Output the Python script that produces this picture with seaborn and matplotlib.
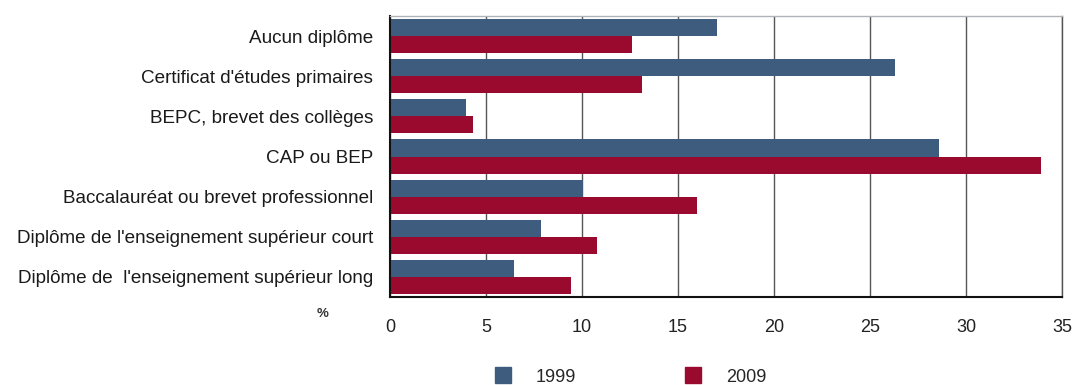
import matplotlib
matplotlib.use("Agg")
import matplotlib.pyplot as plt
from matplotlib import font_manager
from matplotlib.lines import Line2D
import pandas as pd
import seaborn as sns

categories = [
    "Aucun diplôme",
    "Certificat d'études primaires",
    "BEPC, brevet des collèges",
    "CAP ou BEP",
    "Baccalauréat ou brevet professionnel",
    "Diplôme de l'enseignement supérieur court",
    "Diplôme de  l'enseignement supérieur long",
]
years = ["1999", "2009"]
values_1999 = [17.05, 26.3, 3.95, 28.6, 10.05, 7.85, 6.45]
values_2009 = [12.6, 13.1, 4.3, 33.9, 16.0, 10.8, 9.45]
x_ticks = [0, 5, 10, 15, 20, 25, 30, 35]
colors = {"1999": "#3e5d7e", "2009": "#990a2e"}

df = pd.DataFrame({
    "diplome": categories * 2,
    "annee": [years[0]] * len(categories) + [years[1]] * len(categories),
    "pct": values_1999 + values_2009,
})

sns.set_theme(style="white")
installed = {f.name for f in font_manager.fontManager.ttflist}
base_font = "Liberation Sans" if "Liberation Sans" in installed else "DejaVu Sans"
plt.rcParams["font.family"] = [base_font, "DejaVu Sans"]

fig = plt.figure(figsize=(10.75, 3.85), dpi=100)
ax = fig.add_axes([0.3628, 0.2286, 0.6251, 0.7298])

sns.barplot(data=df, y="diplome", x="pct", hue="annee", order=categories,
            hue_order=years, palette=colors, width=0.85, saturation=1,
            orient="h", ax=ax, legend=False, linewidth=0, edgecolor="none")

ax.set_xlim(0, 35)
ax.set_ylim(len(categories) - 0.5, -0.5)
ax.set_xticks(x_ticks)
ax.set_xticklabels([str(t) for t in x_ticks], fontsize=13, color="#222222")
ax.tick_params(axis="x", length=0, pad=16)
ax.tick_params(axis="y", length=0, pad=12, labelsize=13.6, labelcolor="#1a1a1a")
ax.set_xlabel("")
ax.set_ylabel("")
ax.xaxis.grid(True, color="#555555", linewidth=1.0)
ax.set_axisbelow(True)

for side in ["left", "bottom"]:
    ax.spines[side].set_color("#111111")
    ax.spines[side].set_linewidth(1.5)
ax.spines["top"].set_color("#b0b4b8")
ax.spines["top"].set_linewidth(1.0)
ax.spines["right"].set_color("#555555")
ax.spines["right"].set_linewidth(1.0)

fig.text(323 / 1075, 1 - 314 / 385, "%", fontsize=9.5, fontweight="bold",
         color="#333333", ha="center", va="center")

handles = [Line2D([], [], marker="s", linestyle="none", markersize=11,
                  markerfacecolor=colors[y], markeredgecolor=colors[y])
           for y in years]
fig.legend(handles, years, loc="center", bbox_to_anchor=(0.586, 0.02),
           ncol=2, frameon=False, handlelength=1.0,
           handletextpad=1.3, columnspacing=6.0,
           prop={"size": 13})

fig.savefig("out.png", dpi=100)
